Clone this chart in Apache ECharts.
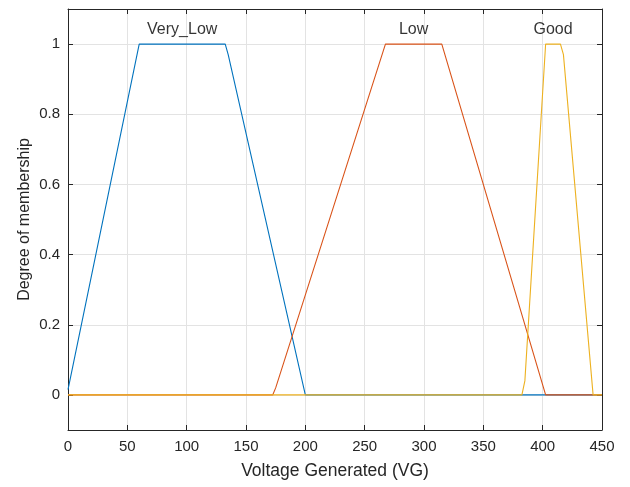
<!DOCTYPE html>
<html>
<head>
<meta charset="utf-8">
<script src="https://cdn.jsdelivr.net/npm/echarts@6/dist/echarts.min.js"></script>
<style>
  html, body { margin: 0; padding: 0; background: #fff; }
  #chart { width: 630px; height: 487px; }
</style>
</head>
<body>
<div id="chart"></div>
<script>
// Membership function vertices: [VG, degree]
const veryLow = [[0, 0.015], [60, 1], [132.5, 1], [135, 0.97], [200, 0], [450, 0]];
const low = [[0, 0], [172.5, 0], [175, 0.02], [267.5, 1], [315, 1], [402.5, 0], [450, 0]];
const good = [[0, 0], [382.5, 0], [385, 0.04], [402.5, 1], [415, 1], [417.5, 0.97], [442.5, 0], [450, 0]];

const mfNames = ['Very_Low', 'Low', 'Good'];
const mfData = [veryLow, low, good];
const mfColors = ['#0072BD', '#D95319', '#EDB120'];

const xTicks = [0, 50, 100, 150, 200, 250, 300, 350, 400, 450];
const yTicks = [0, 0.2, 0.4, 0.6, 0.8, 1];

const FONT = '"Liberation Sans", Arial, Helvetica, sans-serif';
const INK = '#262626';
const GRID = '#e3e3e3';

// Name labels sit above the plateau centre of each function
function plateauCentre(pts) {
  const top = pts.filter(p => p[1] === 1).map(p => p[0]);
  return (Math.min(...top) + Math.max(...top)) / 2;
}
const nameLabels = mfNames.map((n, i) => ({ value: [plateauCentre(mfData[i]), 1.042], name: n }));

const chart = echarts.init(document.getElementById('chart'), null, { renderer: 'canvas' });

const axisLineStyle = { color: INK, width: 1 };

chart.setOption({
  animation: false,
  backgroundColor: '#ffffff',
  grid: { left: 68, right: 28, top: 9, bottom: 57, containLabel: false },
  xAxis: [
    {
      type: 'value', min: 0, max: 450, interval: 50, position: 'bottom',
      name: 'Voltage Generated (VG)', nameLocation: 'middle', nameGap: 32,
      nameMoveOverlap: false,
      nameTextStyle: { fontFamily: FONT, fontSize: 17.5, color: INK },
      axisLine: { show: true, onZero: false, lineStyle: axisLineStyle },
      axisTick: { show: true, inside: true, length: 5, lineStyle: axisLineStyle, customValues: xTicks },
      axisLabel: { fontFamily: FONT, fontSize: 15, color: INK, margin: 9, customValues: xTicks },
      splitLine: { show: true, lineStyle: { color: GRID, width: 1 } }
    },
    {
      type: 'value', min: 0, max: 450, interval: 50, position: 'top',
      axisLine: { show: true, onZero: false, lineStyle: axisLineStyle },
      axisTick: { show: true, inside: true, length: 5, lineStyle: axisLineStyle },
      axisLabel: { show: false },
      splitLine: { show: false }
    }
  ],
  yAxis: [
    {
      type: 'value', min: -0.1, max: 1.1, position: 'left',
      name: 'Degree of membership', nameLocation: 'middle', nameGap: 35,
      nameMoveOverlap: false,
      nameTextStyle: { fontFamily: FONT, fontSize: 16, color: INK },
      axisLine: { show: true, onZero: false, lineStyle: axisLineStyle },
      axisTick: { show: true, inside: true, length: 5, lineStyle: axisLineStyle, customValues: yTicks },
      axisLabel: { fontFamily: FONT, fontSize: 15, color: INK, margin: 8, customValues: yTicks,
                   formatter: v => String(+v.toFixed(1)) },
      splitLine: { show: true, lineStyle: { color: GRID, width: 1 } }
    },
    {
      type: 'value', min: -0.1, max: 1.1, position: 'right',
      axisLine: { show: true, onZero: false, lineStyle: axisLineStyle },
      axisTick: { show: true, inside: true, length: 5, lineStyle: axisLineStyle, customValues: yTicks },
      axisLabel: { show: false, customValues: yTicks },
      splitLine: { show: false }
    }
  ],
  series: mfNames.map((n, i) => ({
    name: n, type: 'line', data: mfData[i], showSymbol: false, symbol: 'none',
    lineStyle: { color: mfColors[i], width: 1.1 }, z: 3 + i
  })).concat([{
    type: 'scatter', data: nameLabels, symbolSize: 0, silent: true,
    label: { show: true, position: 'inside', formatter: p => p.data.name,
             fontFamily: FONT, fontSize: 16, color: '#000' },
    z: 10
  }])
});
</script>
</body>
</html>
